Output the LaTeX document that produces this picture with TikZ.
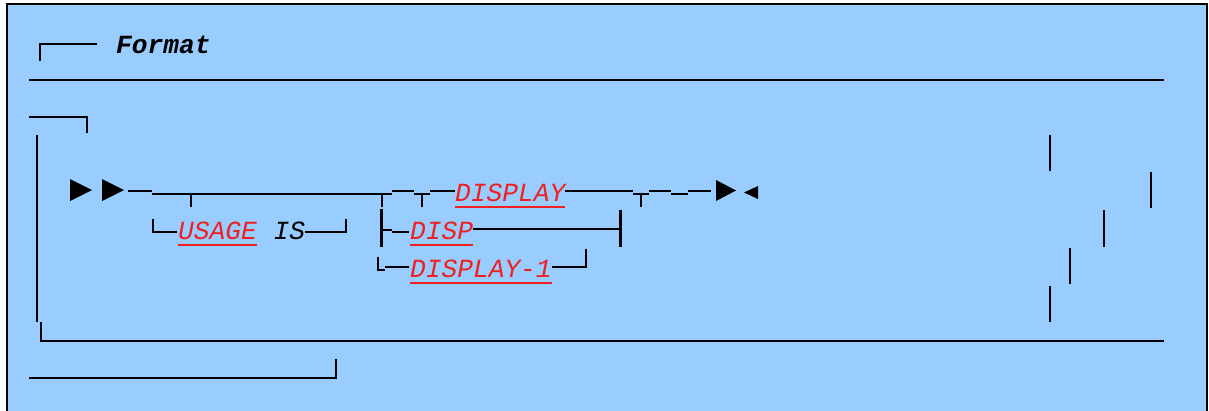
\documentclass[tikz,border=0pt]{standalone}
\usepackage{fontspec}
\setmonofont{Liberation Mono}
\definecolor{bgblue}{RGB}{153,204,255}
\definecolor{kwred}{RGB}{240,32,32}
\begin{document}
\begin{tikzpicture}[x=1pt,y=-1pt,
  ln/.style={line width=2pt,line cap=butt,line join=miter},
  thick bar/.style={line width=3pt,line cap=butt},
  kw/.style={font=\ttfamily\itshape\fontsize{26.2}{30}\selectfont,text=kwred,inner sep=0pt,anchor=base west},
  plain/.style={font=\ttfamily\itshape\fontsize{26.2}{30}\selectfont,text=black,inner sep=0pt,anchor=base west},
  title/.style={font=\ttfamily\bfseries\itshape\fontsize{26.2}{30}\selectfont,text=black,inner sep=0pt,anchor=base west},
  uline/.style={draw=kwred,line width=1.2pt},
  tip/.style={fill=black}]
\useasboundingbox (0,0) rectangle (1209,410);
% panel
\fill[bgblue] (7,4) rectangle (1207,412);
\draw[ln] (7,412) -- (7,4) -- (1207,4) -- (1207,412);
% title
\node[title] (fmt) at (116,53) {Format};
\draw[ln] (40,61) -- (40,44) -- (97,44);
\draw[ln] (29,80) -- (1164,80);
% frame of the diagram
\draw[ln] (29,117) -- (87,117) -- (87,133);
\draw[ln] (37,135) -- (37,322);
\draw[ln] (41,322) -- (41,341) -- (1164,341);
\draw[ln] (29,378) -- (336,378) -- (336,359);
% start arrows
\fill[tip] (70,179) -- (92,190) -- (70,201) -- cycle;
\fill[tip] (102,179) -- (124,190) -- (102,201) -- cycle;
% main line
\draw[ln] (128,191) -- (152,191);
\draw[ln] (152,193.5) -- (392,193.5);
\draw[ln] (191,193.5) -- (191,207);
\draw[ln] (382,193.5) -- (382,207);
\draw[ln] (392,191) -- (414,191);
\draw[ln] (414,194) -- (430,194);
\draw[ln] (422,194) -- (422,207);
\draw[ln] (430,191) -- (455,191);
\node[kw] (display) at (455,201) {DISPLAY};
\draw[uline] ([yshift=-6pt]display.base west) -- ([yshift=-6pt]display.base east);
\draw[ln] (display.east |- 0,191) -- (633,191);
\draw[ln] (633,194) -- (649,194);
\draw[ln] (641,194) -- (641,207);
\draw[ln] (649,191) -- (671,191);
\draw[ln] (671,194) -- (688,194);
\draw[ln] (688,191) -- (711,191);
\fill[tip] (716,180) -- (736,190.5) -- (716,201) -- cycle;
\fill[tip] (744,192.5) -- (758,186) -- (758,199) -- cycle;
% USAGE IS branch
\draw[ln] (153,219) -- (153,232) -- (177,232);
\node[kw] (usage) at (178,239) {USAGE};
\draw[uline] ([yshift=-6pt]usage.base west) -- ([yshift=-6pt]usage.base east);
\node[plain] (is) at (273.5,239) {IS};
\draw[ln] (is.east |- 0,232) -- (346,232) -- (346,219);
% DISP branch
\draw[thick bar] (381,209) -- (381,247);
\draw[ln] (381,230) -- (392,230);
\draw[ln] (392,232) -- (409,232);
\node[kw] (disp) at (410,239) {DISP};
\draw[uline] ([yshift=-6pt]disp.base west) -- ([yshift=-6pt]disp.base east);
\draw[ln] (disp.east |- 0,229) -- (620,229);
\draw[thick bar] (620,210) -- (620,247);
% DISPLAY-1 branch
\draw[ln] (378,257) -- (378,270) -- (385,270);
\draw[ln] (385,267) -- (409,267);
\node[kw] (display1) at (410,277) {DISPLAY-1};
\draw[uline] ([yshift=-6pt]display1.base west) -- ([yshift=-6pt]display1.base east);
\draw[ln] (display1.east |- 0,267) -- (586,267) -- (586,249);
% right-hand bars
\draw[ln] (1050,135) -- (1050,171);
\draw[ln] (1151,172) -- (1151,208);
\draw[ln] (1104,210) -- (1104,247);
\draw[ln] (1070,248) -- (1070,284);
\draw[ln] (1050,286) -- (1050,322);
\end{tikzpicture}
\end{document}
